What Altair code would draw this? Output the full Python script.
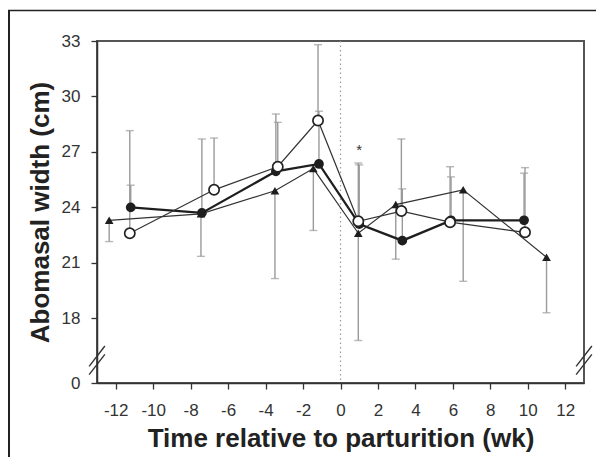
import altair as alt
import pandas as pd

# ---- data ----
filled_x = [-11.2, -7.4, -3.45, -1.15, 1.0, 3.3, 5.9, 9.8]
filled_y = [24.0, 23.7, 25.95, 26.35, 23.1, 22.2, 23.3, 23.3]
filled_err = [25.2, 27.7, 29.05, 29.2, 26.3, 25.0, 25.65, 25.85]

open_x = [-11.25, -6.75, -3.35, -1.2, 0.95, 3.25, 5.85, 9.85]
open_y = [22.6, 24.95, 26.2, 28.7, 23.25, 23.8, 23.2, 22.65]
open_err = [28.15, 27.75, 28.6, 32.8, 26.4, 27.7, 26.2, 26.15]

tri_x = [-12.35, -7.45, -3.5, -1.45, 0.95, 2.95, 6.55, 11.0]
tri_y = [23.3, 23.65, 24.9, 26.1, 22.6, 24.15, 24.95, 21.3]
tri_err = [22.15, 21.35, 20.15, 22.75, 16.8, 21.2, 20.0, 18.3]

x_ticks = list(range(-12, 13))
y_ticks = [14.5, 16.5, 18, 19.5, 21, 22.5, 24, 25.5, 27, 28.5, 30, 31.5, 33]
y_zero_pos = 14.5  # position of the broken-axis "0"
star_x, star_y = [1.0], [27.1]
break_y = [15.95, 15.5]
x_min, x_max = -13, 13

W, H = 487, 342
FONT = "Liberation Sans"

def frame(xs, ys, es):
    return pd.DataFrame({"x": xs, "y": ys, "e": es})

df_f = frame(filled_x, filled_y, filled_err)
df_o = frame(open_x, open_y, open_err)
df_t = frame(tri_x, tri_y, tri_err)

xs = alt.Scale(domain=[x_min, x_max], nice=False, zero=False)
ys = alt.Scale(domain=[y_zero_pos, 33], nice=False, zero=False)

X = alt.X("x:Q", scale=xs, axis=alt.Axis(
    values=x_ticks, title="Time relative to parturition (wk)",
    labelExpr="datum.value % 2 == 0 ? datum.value : ''",
    tickSize=6, labelPadding=13, titlePadding=7, grid=False))
Y = alt.Y("y:Q", scale=ys, axis=alt.Axis(
    values=y_ticks, title="Abomasal width (cm)",
    labelExpr=f"datum.value == {y_zero_pos} ? '0' : (datum.value % 3 == 0 ? datum.value : '')",
    tickSize=6, labelPadding=11, titlePadding=8, grid=False))

ERR_COL = "#9a9a9a"

def errbars(df):
    bars = alt.Chart(df).mark_rule(color=ERR_COL, strokeWidth=1.4).encode(
        x=alt.X("x:Q", scale=xs), y=alt.Y("y:Q", scale=ys), y2="e:Q")
    caps = alt.Chart(df).mark_tick(color=ERR_COL, thickness=1.4, size=8, orient="horizontal").encode(
        x=alt.X("x:Q", scale=xs), y=alt.Y("e:Q", scale=ys))
    return bars + caps

zero_line = alt.Chart(pd.DataFrame({"x": [0]})).mark_rule(
    color="#9a9a9a", strokeDash=[1.5, 3], strokeWidth=1.2).encode(x=alt.X("x:Q", scale=xs))

line_f = alt.Chart(df_f).mark_line(color="#1e1e1e", strokeWidth=2.3).encode(x=X, y=Y, order="x:Q")
line_o = alt.Chart(df_o).mark_line(color="#333333", strokeWidth=1.2).encode(x=alt.X("x:Q", scale=xs), y=alt.Y("y:Q", scale=ys), order="x:Q")
line_t = alt.Chart(df_t).mark_line(color="#333333", strokeWidth=1.2).encode(x=alt.X("x:Q", scale=xs), y=alt.Y("y:Q", scale=ys), order="x:Q")

pts_t = alt.Chart(df_t).mark_point(shape="triangle-up", filled=True, color="#1e1e1e", size=75, opacity=1).encode(
    x=alt.X("x:Q", scale=xs), y=alt.Y("y:Q", scale=ys))
pts_f = alt.Chart(df_f).mark_point(shape="circle", filled=True, color="#1e1e1e", size=95, opacity=1).encode(
    x=alt.X("x:Q", scale=xs), y=alt.Y("y:Q", scale=ys))
pts_o = alt.Chart(df_o).mark_point(shape="circle", filled=True, fill="white", stroke="#222222",
                                   strokeWidth=1.7, size=105, opacity=1).encode(
    x=alt.X("x:Q", scale=xs), y=alt.Y("y:Q", scale=ys))

star = alt.Chart(pd.DataFrame({"x": star_x, "y": star_y})).mark_text(
    text="*", fontSize=15, color="#333333", font=FONT, baseline="middle").encode(
    x=alt.X("x:Q", scale=xs), y=alt.Y("y:Q", scale=ys))

# axis-break slashes (in data units)
dx, dy = 0.42, 0.55
brk_rows = []
for xc in [x_min, x_max]:
    for yc in break_y:
        brk_rows.append({"x": xc - dx, "x2": xc + dx, "y": yc - dy, "y2": yc + dy})
brk = alt.Chart(pd.DataFrame(brk_rows)).mark_rule(color="#333333", strokeWidth=1.4, clip=False).encode(
    x=alt.X("x:Q", scale=xs), x2="x2:Q", y=alt.Y("y:Q", scale=ys), y2="y2:Q")

# outer picture frame (left and top edges)
frame_left = alt.Chart(pd.DataFrame({"a": [0]})).mark_rule(color="#222222", strokeWidth=2).encode(
    x=alt.value(-88), y=alt.value(-31), y2=alt.value(H + 120))
frame_top = alt.Chart(pd.DataFrame({"a": [0]})).mark_rule(color="#222222", strokeWidth=1.5).encode(
    x=alt.value(-89), x2=alt.value(W + 60), y=alt.value(-30.5))

chart = alt.layer(
    zero_line,
    errbars(df_t), errbars(df_f), errbars(df_o),
    line_f, line_o, line_t,
    pts_t, pts_f, pts_o,
    star, brk, frame_left, frame_top,
).properties(
    width=W, height=H,
    autosize=alt.AutoSizeParams(type="none"),
    padding={"left": 89, "top": 33, "right": 12, "bottom": 74},
).configure_view(
    stroke="#555555", strokeWidth=2
).configure_axis(
    domainColor="#333333", domainWidth=1.5, tickColor="#333333", tickWidth=1.3,
    labelFont=FONT, labelFontSize=17, labelColor="#333333",
    titleFont=FONT, titleFontSize=26, titleFontWeight="bold", titleColor="#222222",
)

chart.save("out.html", embed_options={"renderer": "svg", "actions": False})
